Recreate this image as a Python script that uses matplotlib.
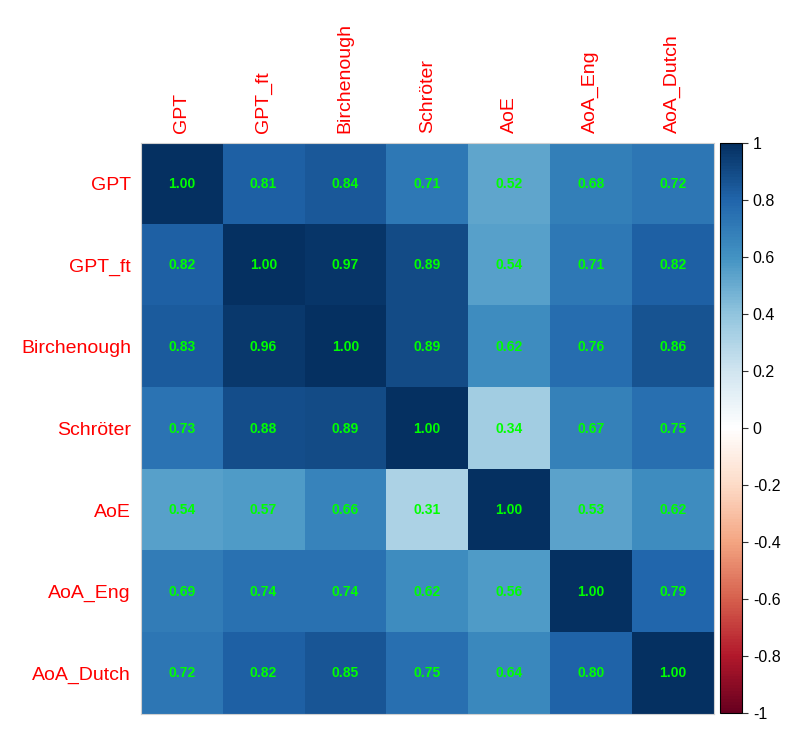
import matplotlib
matplotlib.use("Agg")
import matplotlib.pyplot as plt
import matplotlib as mpl
import numpy as np

labels = ["GPT", "GPT_ft", "Birchenough", "Schröter", "AoE", "AoA_Eng", "AoA_Dutch"]
row_gpt = [1.00, 0.81, 0.84, 0.71, 0.52, 0.68, 0.72]
row_gpt_ft = [0.82, 1.00, 0.97, 0.89, 0.54, 0.71, 0.82]
row_birch = [0.83, 0.96, 1.00, 0.89, 0.62, 0.76, 0.86]
row_schroter = [0.73, 0.88, 0.89, 1.00, 0.34, 0.67, 0.75]
row_aoe = [0.54, 0.57, 0.66, 0.31, 1.00, 0.53, 0.62]
row_aoa_eng = [0.69, 0.74, 0.74, 0.62, 0.56, 1.00, 0.79]
row_aoa_dutch = [0.72, 0.82, 0.85, 0.75, 0.64, 0.80, 1.00]
cbar_ticks = [-1, -0.8, -0.6, -0.4, -0.2, 0, 0.2, 0.4, 0.6, 0.8, 1]

values = np.array([row_gpt, row_gpt_ft, row_birch, row_schroter,
                   row_aoe, row_aoa_eng, row_aoa_dutch])

# corrplot RdBu palette
cmap = mpl.colors.LinearSegmentedColormap.from_list(
    "corr", ["#67001F", "#B2182B", "#D6604D", "#F4A582", "#FDDBC7", "#FFFFFF",
             "#D1E5F0", "#92C5DE", "#4393C3", "#2166AC", "#053061"], N=200)

plt.rcParams['font.family'] = ['Liberation Sans', 'DejaVu Sans']

fig = plt.figure(figsize=(8, 7.44), dpi=100)
ax = fig.add_axes([0.176, 0.040, 0.716, 0.768])
n = len(labels)
im = ax.imshow(values, cmap=cmap, vmin=-1, vmax=1, aspect='auto',
               extent=(-0.5, n - 0.5, n - 0.5, -0.5))

for i in range(n):
    for j in range(n):
        ax.text(j, i, "%.2f" % values[i, j], ha='center', va='center',
                color='#00FF00', fontsize=10, fontweight='bold')

ax.set_xticks(range(n))
ax.set_yticks(range(n))
ax.xaxis.tick_top()
ax.set_xticklabels(labels, rotation=90, color='red', fontsize=14)
ax.set_yticklabels(labels, color='red', fontsize=14)
ax.tick_params(length=0, pad=7)
for s in ax.spines.values():
    s.set_color('#d0d0d0')
    s.set_linewidth(0.8)

cax = fig.add_axes([0.900, 0.041, 0.028, 0.767])
cb = fig.colorbar(im, cax=cax, ticks=cbar_ticks)
cb.ax.set_yticklabels(["%g" % t for t in cbar_ticks])
cb.ax.tick_params(labelsize=11.5, length=4, width=0.8, color='#333333')
cb.outline.set_linewidth(0.8)

fig.savefig("out.png", dpi=100)
